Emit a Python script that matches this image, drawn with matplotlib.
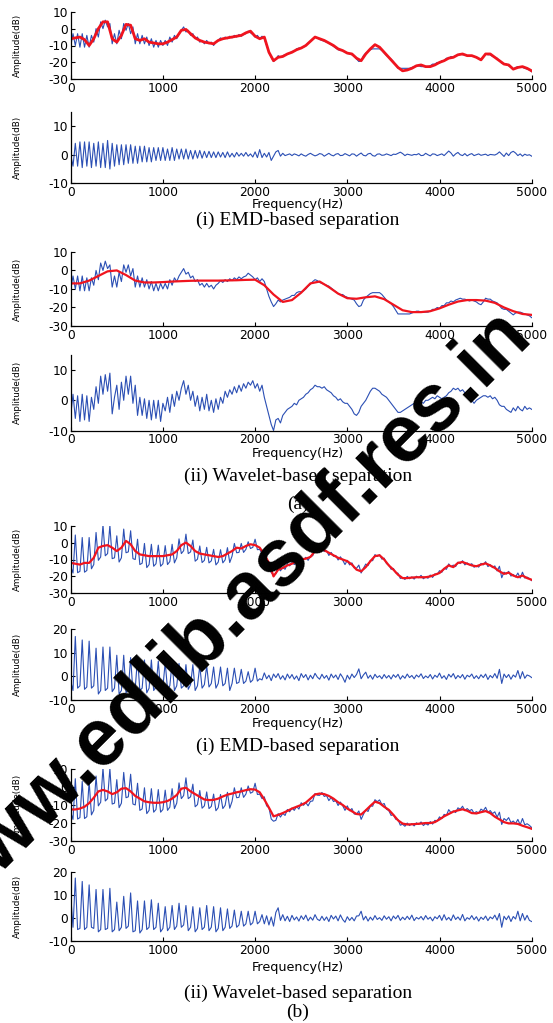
import numpy as np
import matplotlib
matplotlib.use("Agg")
import matplotlib.pyplot as plt

plt.rcParams['font.family'] = 'DejaVu Sans'
plt.rcParams['axes.unicode_minus'] = False

W, H = 553, 1023
BLUE = '#2b4fb4'
RED = '#f0141e'

# frequency grids (Hz)
freq = np.arange(0, 5001, 25)
freq_env = np.arange(0, 5001, 50)
freq_env_wav_a = np.arange(0, 5001, 100)

# (a) original spectrum
orig_a = [-10.5, -3, -10, -3, -11, -3, -11, -4, -11, -4,
          -8, 0, -5, 4, 0, 5, 1, 3, -9, -3,
          -9, -1, -6, 3, -1, 3, -3, 1, -9, -3,
          -9, -4, -9, -5, -10, -6, -11, -7, -11, -7,
          -10, -7, -10, -5, -8, -4, -6, -3, -1, 1,
          -2, -1, -4, -3, -6, -5, -8, -7, -9, -7,
          -9, -8, -10, -8, -7, -5.5, -6.5, -5, -6, -4.5,
          -5.5, -4, -5, -3.5, -4.5, -3.5, -3, -1.5, -2.5, -3.5,
          -5, -4, -6, -4.5, -6, -10, -14, -17, -19.5, -18,
          -16, -17, -16, -15.5, -15, -14.5, -13.5, -13.5, -12, -11.5,
          -11.5, -11, -10, -8.5, -7.5, -6, -5, -5.5, -6.5, -7,
          -7.5, -8, -8.5, -9.5, -10.5, -11.5, -12.5, -13, -13, -14,
          -14.5, -15, -15.5, -16, -18, -19.5, -19, -16, -14.5, -13.5,
          -12.5, -12, -12, -12, -12, -13, -14.5, -16, -17, -18,
          -19.5, -21.5, -23.5, -23.5, -23.5, -23.5, -23.5, -23.5, -23, -22.5,
          -22, -22, -22.5, -22.5, -22.5, -22.5, -22, -21, -21, -20,
          -20.5, -19, -19, -17.5, -17.5, -16.5, -17, -16, -15.5, -15,
          -15.5, -15.5, -16, -16.5, -16, -16.5, -17, -18, -18.5, -17,
          -15, -15.5, -15.5, -16.5, -17, -17.5, -19, -20.5, -21, -21,
          -22, -23, -24, -23, -22.5, -22.5, -23, -23.5, -24, -24.5,
          -25.5]

# (a)(i) EMD envelope, 50 Hz steps
emd_env_a = [-6, -5.5, -5, -6.5, -10, -6, 0, 4, 4, -6,
             -8, -4, 2.5, 2, -6, -7, -6, -8, -8.5, -9,
             -9, -8, -6.5, -5, -1, -0.5, -3, -5.5, -7, -8,
             -8.5, -9, -7, -6, -5.5, -5, -4.5, -4, -2.5, -1.5,
             -4.5, -6, -5, -14, -19, -17, -16.5, -15, -14, -12.5,
             -11.5, -10, -7.5, -5, -6, -7, -8.5, -10, -12, -13,
             -14.5, -15, -17.5, -19, -15, -12, -9.5, -11, -14, -17,
             -20, -23, -25, -24.5, -23.5, -22, -21.5, -22.5, -22.5, -21.5,
             -20, -19, -17.5, -17, -15.5, -15, -16, -16, -17, -18.5,
             -15, -15, -17, -19, -21, -21.5, -24, -23, -22.5, -23.5,
             -25]

# (a)(i) EMD residual
emd_res_a = [0, -4, 4, -4, 4.5, -4.5, 4.5, -4, 4.5, -4.5,
             4, -4, 4.5, -4.5, 4, -4.5, 5, -5, 4, -4,
             3.5, -3.5, 3.5, -3.5, 3.5, -3, 3.5, -3, 3, -3,
             3, -2.5, 3, -2.5, 2.5, -2.5, 2.5, -2, 2.5, -2,
             2.5, -2, 2, -2, 2.5, -2, 2, -1.5, 2, -1.5,
             2, -1.5, 1.5, -1.5, 1.5, -1.2, 1.5, -1.2, 1.2, -1,
             1.2, -1, 1, -1, 1, -0.8, 0.8, -1, 1, -0.8,
             0.5, -0.8, 0.8, -0.5, 0.5, -0.5, 0.8, -0.5, 0.3, -0.8,
             1, -1, 1.8, -1, 0.5, -0.8, 0.8, -2, -0.5, 1,
             1.5, -0.5, 0.5, -0.3, 0, 0.3, -0.3, 0.3, 0, -0.4,
             0.3, -0.2, -0.5, 0.1, 0.5, 0, -0.4, -0.1, 0.4, 0.2,
             -0.5, 0, 0.5, -0.1, -0.4, 0.2, 0.4, -0.3, -0.2, 0.4,
             0, -0.4, 0.3, 0.2, -0.5, 0.1, 0.6, -0.2, -0.4, 0.3,
             0.5, -0.3, -0.5, 0.2, 0.3, -0.2, -0.1, 0.3, 0, -0.3,
             0.2, 0.1, 0.5, 0.9, 0.4, -0.3, 0.2, 0, -0.2, 0.1,
             0, 0.4, -0.3, -0.2, 0.5, 0, -0.4, 0.3, 0.2, -0.3,
             0, 0.3, -0.3, 0.5, 1.3, 0.6, -0.5, 0.3, 0.8, 0,
             -0.3, 0.4, -0.4, 0.1, 0.4, -0.3, 0, 0.3, -0.2, 0,
             0.2, -0.3, 0.1, 0, -0.1, 0.3, 1, 0.2, -0.6, 0.6,
             -0.3, 0.8, 1.2, 0.6, -0.3, 0.3, -0.5, 0.2, -0.2, 0,
             -0.5]

# (a)(ii) wavelet envelope, 100 Hz steps
wav_env_a = [-7, -7, -5.5, -3, -0.5, 0, -2.5, -5.5, -6.5, -6.5,
             -6.3, -6, -5.8, -5.6, -5.5, -5.5, -5.5, -5.4, -5.3, -5.1,
             -5, -8, -13, -17, -16, -12, -7, -6, -9, -12.5,
             -15, -15.3, -14.5, -14, -15.5, -18.5, -21.5, -22.5, -22.5, -22,
             -20.5, -18.5, -16.8, -16, -16, -16.3, -17.5, -20, -22, -23.5,
             -24]

# (a)(ii) wavelet residual
wav_res_a = [-5, 2, -6, 1.5, -7, 2, -6.5, 1.5, -7, 1,
             -3, 4.5, -1, 8, 2, 8.5, 3, 9, -4.5, 1,
             5, -3, 6, 0, 8, 2, 8, -1, 5, -5,
             1, -5, 0.5, -6, 0, -6.5, 0, -6, 0, -7,
             -1, -3.5, 1, -4, 2, -2, 3, 0, 4, 6.5,
             2, 5, 0, 3, -2, 1.5, -3.5, 1, -3, 2,
             -3.5, 0, -4, 0.5, -3, 1, -1, 3, 1, 3.5,
             2, 4.5, 2.5, 5, 3, 5.5, 4, 6, 5, 6.5,
             4, 5.5, 3, 5, 1, -2, -5, -8, -10, -6.5,
             -6, -7.5, -5, -4, -3, -2.5, -2, -1, -1.5, 0,
             0.5, 1, 2, 2.5, 3.5, 4, 5, 4.5, 4.5, 4,
             4.5, 3.5, 3, 2.5, 1.5, 1, 0, 0.5, -0.5, -1,
             -1, -2, -3, -4.5, -5, -4, -2, -1, 0, 1.5,
             3, 4, 4, 3.5, 3, 2, 1.5, 1, 0, -1,
             -2, -3, -4, -4, -3.5, -3, -2.5, -2, -1.5, -1,
             -1.5, -1, -0.5, -1, 0, 0, 0.5, 1, 0.5, 1.5,
             1, 0.5, 1, 1.5, 2.5, 3, 4, 3.5, 4, 3,
             3.5, 2.5, 2, 1, 0, -1, 0, 0.5, 1, 1.5,
             1.5, 1, 1.5, 0.5, 1, 0, -1.5, -2, -2, -3,
             -3.5, -4, -2.5, -3.5, -2, -3, -3.5, -2, -3, -2.5,
             -3]

# (b) original spectrum
orig_b = [-14, -18, 4.5, -17.8, -17, 3, -17.5, -16.5, 3, -15.5,
          -13, 6, -10.5, -8.5, 10.5, -7.8, -6.5, 10.2, -9.5, -9,
          4, -11.5, -9, 8, -6, -5.5, 7, -9.5, -10, 2,
          -13, -12.2, -0.5, -14.8, -13, -1, -14, -12.5, -1.5, -14,
          -12.5, -1.8, -13, -11.2, -1, -12, -9, 2.2, -6.5, -4.8,
          5, -6.5, -5.5, 1.5, -11, -9.8, -2, -11.8, -10.5, -2.8,
          -12, -10.8, -4, -13.2, -11.5, -4.2, -12, -10.2, -3, -11.8,
          -8, -0.5, -6, -5.8, -0.5, -5.8, -4, 0.5, -3.5, -2.8,
          2, -4.2, -4, -6.5, -5.5, -10.5, -11.5, -17.8, -19, -18.5,
          -14.8, -16.7, -14.7, -15.8, -12.5, -13.8, -11.7, -13, -10.8, -12.3,
          -8.8, -10.2, -8.7, -10.5, -8, -7.8, -3.7, -4.6, -4.7, -3.1,
          -5.3, -4.8, -7.6, -5.8, -8.1, -7.6, -10.3, -8.4, -10.4, -13,
          -10.5, -13.2, -12, -15, -15.2, -13.3, -18, -15.2, -12.7, -13.6,
          -10.5, -10.7, -7.1, -8.2, -7.2, -9.8, -9.2, -12.4, -13.1, -15.8,
          -15.3, -17.9, -18.1, -21.2, -20.7, -21.8, -20, -21.4, -20.3, -21.6,
          -19.9, -20.8, -19.4, -21.4, -20.3, -21.1, -19.2, -20.6, -18.5, -18.9,
          -16.6, -17.6, -15.2, -15.8, -12.6, -14.3, -13.3, -14.2, -11.6, -12.4,
          -10.7, -13.2, -12, -13.2, -12.5, -14.6, -13.7, -14.5, -12.3, -13.2,
          -11.3, -14.2, -13.1, -14.8, -13.8, -16.8, -14, -20.8, -17.5, -18.6,
          -17, -19.8, -18.9, -20.3, -18, -21, -17.5, -21, -20.4, -21.3,
          -22.5]

# (b)(i) EMD envelope, 50 Hz steps
emd_env_b = [-12, -12.5, -13, -12, -12, -9, -3, -2, -1.5, -3,
             -5, -3, 1, -1, -5, -7, -7.5, -8, -8, -8,
             -8, -7.5, -7, -5, -1.5, 0, -2, -5, -6.5, -7,
             -7.5, -8, -8.5, -8, -6.5, -5, -3, -3.5, -2, -1,
             -1.5, -3, -7, -12, -20, -16, -15, -13.5, -12.5, -11,
             -10, -9.5, -8.5, -5, -3.5, -4.5, -6, -7.5, -9, -10,
             -11, -13, -16, -17, -14.5, -11, -8, -7.5, -10, -13.5,
             -16, -19, -21, -21, -20.7, -20.5, -20.5, -20.5, -20, -19,
             -18, -15.5, -13.5, -14.5, -12, -11.5, -12.5, -13.5, -14, -13,
             -12.3, -13.5, -15, -17, -18.5, -17.8, -19.5, -20.5, -19.5, -21,
             -22]

# (b)(i) EMD residual
emd_res_b = [-2, -6, 17, -5, -4, 15.5, -5.5, -4.5, 15, -5,
             -4, 12, -7.5, -6, 12.5, -6, -5, 12.5, -6.5, -5,
             9, -7.5, -6, 9, -7, -5.5, 8, -6.5, -5, 8,
             -6, -5, 7, -7, -5, 7, -6, -4.5, 6.5, -6,
             -4.5, 6, -5.5, -4, 6, -6, -4, 5.5, -5, -4,
             5, -5.5, -3.5, 5, -6, -4, 4.5, -5, -3.5, 4.5,
             -4.5, -3, 4, -5, -3, 4, -4, -3, 3.5, -6,
             -3, 3.5, -3, -2.5, 3, -3, -2, 2, -2.5, -1.5,
             3.5, -2, -1, -1.5, 1.5, -1, 0.5, -1.8, 1, -0.5,
             1.2, -1.2, 0.3, -1.5, 1, -0.8, 0.8, -1.2, 0.2, -1.8,
             1.2, -0.5, 0.8, -1.5, 0.5, -1, 1.3, -0.3, -1.2, 0.9,
             -0.8, 0.4, -1.6, 1, -0.6, 0.6, -1.3, 1.1, -0.4, -2.5,
             0.5, -1.2, 1, -0.5, 0.8, 3.2, -1, 0.6, 1.8, -0.8,
             0.5, -1.2, 0.9, -0.5, 0.3, -1, 0.8, -0.7, 0.4, -1.1,
             0.7, -0.4, 0.9, -1.2, 0.3, -0.8, 1, -0.5, 0.4, -1,
             0.6, -0.3, 1.1, -0.9, 0.2, -0.6, 0.8, -1.1, 0.5, -0.4,
             1.4, -0.8, 0.3, -1.3, 0.9, -0.3, 1.2, -1, 0.4, -0.6,
             0.8, -1.2, 0.5, -0.2, 1, -0.9, 0.3, -1, 0.7, -0.5,
             1, -1.3, 0.4, -0.6, 1.2, -0.8, 3, -3, 1, -0.5,
             0.8, -1.2, 0.6, -0.3, 2.5, -1, 2, -0.8, 0.6, 0.2,
             -0.5]

# (b)(ii) wavelet envelope, 50 Hz steps
wav_env_b = [-12.5, -12.5, -12, -11, -9, -6, -2.5, -1.7, -2.5, -4,
             -3, -1, -0.7, -2.5, -5, -6.5, -8, -8.5, -8.8, -8.8,
             -8.5, -7.8, -6.5, -4.5, -1, -0.5, -2.5, -4, -5.5, -7,
             -7.3, -7.2, -6.5, -5.3, -4.3, -3.7, -3, -2.5, -1.8, -1.3,
             -1.5, -3, -7, -11.5, -16.3, -15.5, -14.5, -13.3, -12, -11,
             -10, -8.7, -6.5, -4.2, -3.7, -4, -5, -6.5, -8.5, -10,
             -12, -13.5, -15, -15.3, -13, -10.5, -8.2, -9, -11, -12.7,
             -15.5, -18.5, -20.3, -20.8, -20.7, -20.5, -20.3, -20, -20, -19.5,
             -18, -16.3, -15, -13.7, -13, -12.4, -13.2, -14.5, -14.7, -14,
             -13.4, -14.5, -16.5, -18, -19.5, -20.2, -20.2, -20.5, -21.5, -22.3,
             -23.2]

# (b)(ii) wavelet residual
wav_res_b = [10, -4, 17.5, -5, -4.5, 16, -5, -4, 14.5, -4,
             -4.5, 12.5, -6, -5, 12.5, -5, -4.5, 13, -6, -5,
             7, -5.5, -4, 9.5, -4.5, -3.5, 11, -6, -5.5, 7.5,
             -6.5, -5, 7.5, -5, -4, 8, -5, -4, 6.5, -6,
             -4.5, 5, -5.5, -4, 5.5, -5, -3.5, 6.5, -4, -3,
             5.5, -5.5, -4, 5, -6, -4.5, 4.5, -5, -4, 5.5,
             -5.5, -4, 5, -6, -4.5, 4.5, -5.5, -4, 4, -4.5,
             -3.5, 3.5, -4, -3, 3, -3.5, -2.5, 3, -3, -2,
             3, -2.5, -1.5, 1.5, -2.5, 1, -3, 0.5, -3.5, 2.5,
             4.5, -1, 1.5, -1.2, 0.8, -1.5, 1.2, -0.8, 0.5, -1.3,
             1, -0.6, 1.3, -1.2, 0.4, -0.9, 1.5, -0.5, -1.1, 0.8,
             -1, 0.5, -1.5, 1.2, -0.4, 0.9, -1.2, 1.4, -0.6, -1.8,
             0.6, -1, 0.3, -1.2, 0.9, 1, 3, -0.8, 0.8, -1.3,
             0.4, -0.9, 1.1, -0.6, 0.2, -1, 1, -0.5, 0.6, -1.2,
             0.9, -0.3, 1.2, -1, 0.4, -0.7, 0.8, -0.6, 1.3, -1.1,
             0.3, -0.4, 0.7, -0.8, 1.1, -0.5, 0.4, -1.2, 0.6, -0.3,
             1.2, -1, 1.5, -0.8, 0.3, -1.1, 1.4, -0.6, 0.5, -0.9,
             1.6, -1.2, 0.2, -0.5, 1.1, -0.7, 0.6, -1.3, 0.4, -0.6,
             0.9, -1.1, 0.5, -0.3, 1.3, -0.9, 2, -4, 0.8, -0.7,
             1, -1.5, 0.7, -0.4, 3, -1.2, 2, -0.9, 1.2, -1,
             -1.5]

fig = plt.figure(figsize=(W / 100, H / 100), dpi=100)


def panel(top, bottom, ylim, yticks):
    left, right = 70.7, 531.7
    ax = fig.add_axes([left / W, 1 - bottom / H, (right - left) / W, (bottom - top) / H])
    ax.set_xlim(0, 5000)
    ax.set_ylim(*ylim)
    ax.set_xticks(range(0, 5001, 1000))
    ax.set_yticks(yticks)
    for s in ('top', 'right'):
        ax.spines[s].set_visible(False)
    for s in ('left', 'bottom'):
        ax.spines[s].set_linewidth(0.9)
    ax.tick_params(direction='in', length=3, width=0.8, labelsize=8.8, pad=2)
    ax.set_ylabel('Amplitude(dB)', fontsize=6.3)
    ax.yaxis.set_label_coords(-0.105, 0.5)
    return ax


big = (-30, 10), [-30, -20, -10, 0, 10]

ax = panel(11.7, 79.3, *big)
ax.plot(freq, orig_a, color=BLUE, lw=0.8)
ax.plot(freq_env, emd_env_a, color=RED, lw=2.0)

ax = panel(111.9, 183.3, (-10, 15), [-10, 0, 10])
ax.plot(freq, emd_res_a, color=BLUE, lw=0.8)

ax = panel(251.9, 326.0, *big)
ax.plot(freq, orig_a, color=BLUE, lw=0.8)
ax.plot(freq_env_wav_a, wav_env_a, color=RED, lw=1.6)

ax = panel(355.0, 430.5, (-10, 15), [-10, 0, 10])
ax.plot(freq, wav_res_a, color=BLUE, lw=0.8)

ax = panel(525.7, 593.3, *big)
ax.plot(freq, orig_b, color=BLUE, lw=0.8)
ax.plot(freq_env, emd_env_b, color=RED, lw=1.6)

ax = panel(629.4, 699.9, (-10, 20), [-10, 0, 10, 20])
ax.plot(freq, emd_res_b, color=BLUE, lw=0.8)

ax = panel(768.8, 841.1, *big)
ax.plot(freq, orig_b, color=BLUE, lw=0.8)
ax.plot(freq_env, wav_env_b, color=RED, lw=1.6)

ax = panel(872.3, 941.0, (-10, 20), [-10, 0, 10, 20])
ax.plot(freq, wav_res_b, color=BLUE, lw=0.8)

# axis titles and captions
for y in (204.5, 454, 723.5, 968):
    fig.text(298 / W, 1 - y / H, 'Frequency(Hz)', fontsize=9.2, ha='center', va='center')

serif = dict(family='Liberation Serif', fontsize=14, ha='center', va='center')
fig.text(298 / W, 1 - 220 / H, '(i) EMD-based separation', **serif)
fig.text(298 / W, 1 - 476.5 / H, '(ii) Wavelet-based separation', **serif)
fig.text(298 / W, 1 - 504.6 / H, '(a)', **serif)
fig.text(298 / W, 1 - 746.5 / H, '(i) EMD-based separation', **serif)
fig.text(298 / W, 1 - 993 / H, '(ii) Wavelet-based separation', **serif)
fig.text(298 / W, 1 - 1012.8 / H, '(b)', **serif)

# watermark, runs off the left edge as in the source
fig.text(245 / W, 1 - 630 / H, 'www.edlib.asdf.res.in', family='Liberation Sans',
         fontsize=58, fontweight='bold', color='black', rotation=45,
         rotation_mode='anchor', ha='center', va='baseline', zorder=10)

fig.savefig('out.png', dpi=100)
